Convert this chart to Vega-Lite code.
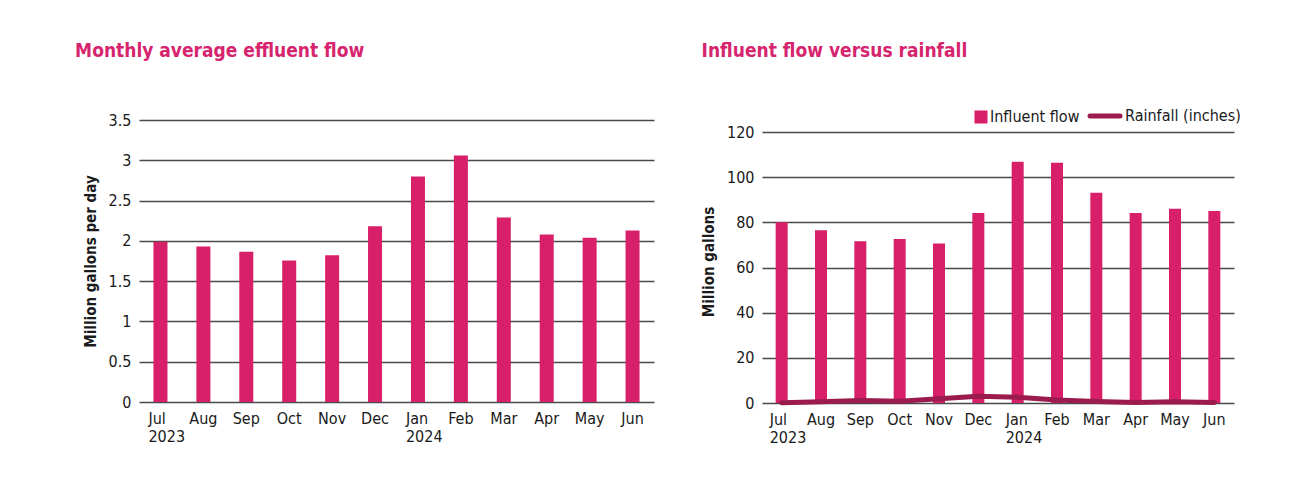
{
  "$schema": "https://vega.github.io/schema/vega-lite/v6.json",
  "background": "white",
  "padding": {"left": 75, "top": 42, "right": 10, "bottom": 10},
  "spacing": 47,
  "resolve": {"scale": {"color": "independent"}, "legend": {"color": "independent"}},
  "datasets": {
    "effluent": [
      {"m": "Jul|2023", "v": 1.99},
      {"m": "Aug", "v": 1.93},
      {"m": "Sep", "v": 1.865},
      {"m": "Oct", "v": 1.755},
      {"m": "Nov", "v": 1.82},
      {"m": "Dec", "v": 2.18},
      {"m": "Jan|2024", "v": 2.8},
      {"m": "Feb", "v": 3.06},
      {"m": "Mar", "v": 2.29},
      {"m": "Apr", "v": 2.08},
      {"m": "May", "v": 2.04},
      {"m": "Jun", "v": 2.13}
    ],
    "influent": [
      {"m": "Jul|2023", "flow": 80, "rain": 0.1},
      {"m": "Aug", "flow": 76.5, "rain": 0.6},
      {"m": "Sep", "flow": 71.6, "rain": 1.1},
      {"m": "Oct", "flow": 72.6, "rain": 0.8},
      {"m": "Nov", "flow": 70.6, "rain": 1.9},
      {"m": "Dec", "flow": 84.1, "rain": 3.0},
      {"m": "Jan|2024", "flow": 106.8, "rain": 2.5},
      {"m": "Feb", "flow": 106.4, "rain": 1.3},
      {"m": "Mar", "flow": 93.1, "rain": 0.7},
      {"m": "Apr", "flow": 84.1, "rain": 0.2},
      {"m": "May", "flow": 86, "rain": 0.5},
      {"m": "Jun", "flow": 85, "rain": 0.2}
    ]
  },
  "config": {
    "font": "Liberation Sans Narrow, DejaVu Sans Condensed, Roboto, sans-serif",
    "view": {"stroke": null},
    "title": {"font": "Liberation Sans Narrow, DejaVu Sans Condensed, Roboto, sans-serif", "fontSize": 19, "fontWeight": "bold", "color": "#d6246e", "anchor": "start", "frame": "bounds"},
    "axis": {
      "labelFont": "Liberation Sans Narrow, DejaVu Sans Condensed, Roboto, sans-serif",
      "titleFont": "Liberation Sans Narrow, DejaVu Sans Condensed, Roboto, sans-serif",
      "labelFontSize": 16,
      "labelColor": "#1a1a1a",
      "titleColor": "#1a1a1a",
      "titleFontSize": 15,
      "titleFontWeight": "bold"
    },
    "axisY": {"domain": false, "ticks": false, "grid": true, "gridColor": "#4a4a4a", "gridWidth": 1.3, "labelPadding": 8, "titlePadding": 10},
    "axisX": {"domain": false, "ticks": false, "grid": false, "labelAngle": 0, "labelPadding": 8, "title": null,
      "labelExpr": "split(datum.value, '|')",
      "labelAlign": {"condition": {"test": "indexof(datum.value, '|') >= 0", "value": "left"}, "value": "center"},
      "labelOffset": {"condition": {"test": "indexof(datum.value, '|') >= 0", "value": -12}, "value": 0},
      "labelLineHeight": 18
    },
    "legend": {"labelFont": "Liberation Sans Narrow, DejaVu Sans Condensed, Roboto, sans-serif", "labelFontSize": 16, "labelColor": "#1a1a1a"}
  },
  "hconcat": [
    {
      "title": {"text": "Monthly average effluent flow", "offset": 51, "dx": -8},
      "width": 515,
      "height": 282,
      "data": {"name": "effluent"},
      "mark": {"type": "bar", "width": 14, "color": "#d81f69"},
      "encoding": {
        "x": {"field": "m", "type": "nominal", "sort": null, "scale": {"paddingInner": 0, "paddingOuter": 0}},
        "y": {"field": "v", "type": "quantitative", "title": "Million gallons per day", "scale": {"domain": [0, 3.5]}, "axis": {"values": [0, 0.5, 1, 1.5, 2, 2.5, 3, 3.5], "format": "~g"}}
      }
    },
    {
      "title": {"text": "Influent flow versus rainfall", "offset": 47, "dx": 0},
      "width": 472,
      "height": 283,
      "data": {"name": "influent"},
      "encoding": {
        "x": {"field": "m", "type": "nominal", "sort": null, "scale": {"paddingInner": 0, "paddingOuter": 0}}
      },
      "layer": [
        {
          "mark": {"type": "bar", "width": 12},
          "encoding": {
            "y": {"field": "flow", "type": "quantitative", "title": "Million gallons", "scale": {"domain": [0, 125.33], "nice": false}, "axis": {"values": [0, 20, 40, 60, 80, 100, 120]}},
            "color": {"datum": "Influent flow", "type": "nominal",
              "scale": {"domain": ["Influent flow", "Rainfall (inches)"], "range": ["#d81f69", "#9c1b4e"]},
              "legend": {"title": null, "orient": "none", "direction": "horizontal", "legendX": 213, "legendY": -12, "columnPadding": 0, "labelOffset": 4, "symbolSize": 900,
                "encode": {
                  "symbols": {"update": {
                    "shape": {"signal": "datum.value === 'Influent flow' ? 'square' : 'stroke'"},
                    "size": {"signal": "datum.value === 'Influent flow' ? 170 : 900"},
                    "x": {"signal": "datum.value === 'Influent flow' ? 6 : 17"},
                    "fill": {"signal": "datum.value === 'Influent flow' ? '#d81f69' : 'transparent'"},
                    "stroke": {"signal": "datum.value === 'Influent flow' ? 'transparent' : '#9c1b4e'"},
                    "strokeWidth": {"signal": "datum.value === 'Influent flow' ? 0 : 5"},
                    "strokeCap": {"value": "round"},
                    "opacity": {"value": 1}
                  }},
                  "labels": {"update": {
                    "x": {"signal": "datum.value === 'Influent flow' ? 15 : 37"}
                  }}
                }
              }
            }
          }
        },
        {
          "mark": {"type": "line", "strokeWidth": 5, "strokeCap": "round", "strokeJoin": "round"},
          "encoding": {
            "y": {"field": "rain", "type": "quantitative"},
            "color": {"datum": "Rainfall (inches)", "type": "nominal"}
          }
        }
      ]
    }
  ]
}
